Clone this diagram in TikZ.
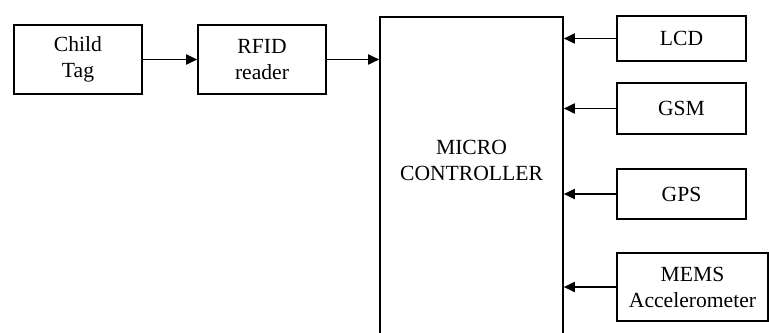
\documentclass[tikz,border=0pt]{standalone}
\usepackage{fontspec}
\setmainfont{Liberation Serif}
\usetikzlibrary{arrows.meta, positioning, calc}
\tikzset{
  every picture/.style={font=\fontsize{10.8pt}{13pt}\selectfont, line width=0.8pt},
  box/.style={draw=black, fill=white, align=center, inner sep=0pt, minimum width=#1},
  box/.default=64pt,
  arrow/.style={-{Triangle[length=5.5pt, width=5pt]}, draw=black, line width=0.9pt},
}

\begin{document}
\begin{tikzpicture}[x=0.5pt, y=-0.5pt]
  \clip (0,0) rectangle (769,332);
  % input chain
  \node[box, minimum height=34.5pt] (child) at (78,59.5) {Child\\Tag};
  \node[box, minimum height=34.5pt] (rfid) at (262,59.5) {RFID\\reader};
  % controller (runs off the bottom)
  \node[box=91.5pt, anchor=north, minimum height=170pt] (mc) at (471.5,16) {};
  \node[align=center, inner sep=0pt] (mctext) at (471.5,160) {MICRO\\CONTROLLER};
  % peripherals
  \node[box=64.5pt, minimum height=22.5pt] (lcd) at (681.5,38.5) {LCD};
  \node[box=64.5pt, minimum height=25.5pt] (gsm) at (681.5,108.5) {GSM};
  \node[box=64.5pt, minimum height=25pt] (gps) at (681.5,194) {GPS};
  \node[box=75.5pt, minimum height=34pt] (mems) at (692.5,287) {MEMS\\Accelerometer};
  % connections
  \draw[arrow] (child) -- (rfid);
  \draw[arrow] (rfid.east) -- (rfid.east -| mc.west);
  \foreach \n in {lcd, gsm, gps, mems}
    \draw[arrow] (\n.west) -- (\n.west -| mc.east);
\end{tikzpicture}
\end{document}
